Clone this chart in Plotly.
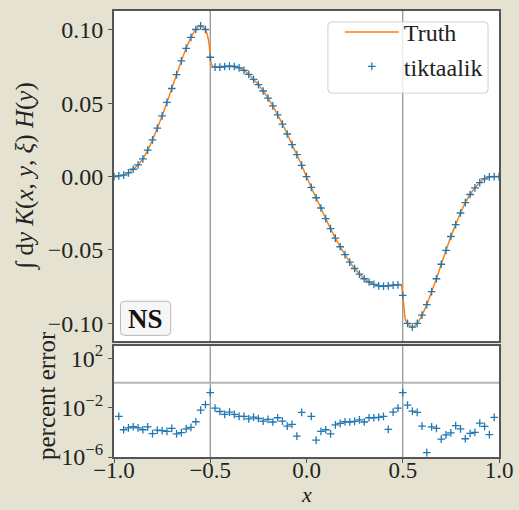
import numpy as np
import plotly.graph_objects as go

# ---- data -------------------------------------------------------------
x_grid = np.linspace(-1.0, 1.0, 81)

tiktaalik_vals = [
    0.0000, 0.0005, 0.0010, 0.0025, 0.0050, 0.0080, 0.0120, 0.0180, 0.0250, 0.0330,
    0.0414, 0.0505, 0.0600, 0.0694, 0.0788, 0.0874, 0.0948, 0.1002, 0.1027, 0.1002,
    0.0813, 0.0745, 0.0745, 0.0750, 0.0752, 0.0750, 0.0741, 0.0723, 0.0696, 0.0662,
    0.0626, 0.0583, 0.0534, 0.0482, 0.0421, 0.0358, 0.0290, 0.0218, 0.0149, 0.0077,
    0.0000,
    -0.0074, -0.0144, -0.0214, -0.0286, -0.0354, -0.0419, -0.0478, -0.0532, -0.0583,
    -0.0626, -0.0664, -0.0696, -0.0718, -0.0734, -0.0745, -0.0747, -0.0745, -0.0739,
    -0.0737, -0.0809, -0.1000, -0.1025, -0.1000, -0.0944, -0.0872, -0.0784, -0.0696,
    -0.0597, -0.0502, -0.0408, -0.0327, -0.0248, -0.0178, -0.0122, -0.0077, -0.0041,
    -0.0016, -0.0002, 0.0000, 0.0000,
]

# extra samples of the exact curve around the kinks at x = -0.5 and x = 0.5
truth_extra_x = [-0.51, -0.505, -0.495, -0.49, 0.49, 0.495, 0.505, 0.51, 0.515]
truth_extra_y = [0.0935, 0.0890, 0.0770, 0.0755, -0.0736, -0.0750, -0.0870, -0.0940, -0.0980]

percent_error = [
    None, 1.9e-3, 1.6e-4, 2.3e-4, 2.8e-4, 2.3e-4, 1.6e-4, 2.7e-4, 7.8e-5, 1.5e-4,
    1.35e-4, 1.2e-4, 2.1e-4, 7.4e-5, 9.3e-5, 1.9e-4, 2.5e-4, 7.1e-4, 6.2e-3, 1.7e-2,
    0.16, 8.9e-3, 4.8e-3, 2.8e-3, 4.3e-3, 2.8e-3, 1.9e-3, 1.9e-3, 1.2e-3, 1.7e-3,
    1.3e-3, 8.1e-4, 1.1e-3, 6.8e-4, 1.5e-3, 8.1e-4, 3.2e-4, 4.4e-4, 4.8e-5, 4.0e-3,
    None,
    1.9e-3, 2.3e-5, 1.2e-4, 1.6e-4, 7.4e-5, 3.9e-4, 5.2e-4, 7.1e-4, 6.8e-4,
    7.6e-4, 1.0e-3, 6.8e-4, 1.5e-3, 1.5e-3, 1.6e-3, 1.9e-3, 1.7e-4, 4.3e-3,
    8.9e-3, 0.16, 1.6e-2, 5.1e-3, 4.0e-3, 3.2e-4, 2.3e-6, 2.7e-4, 2.1e-4,
    2.8e-5, 6.2e-5, 8.9e-5, 3.4e-4, 1.9e-4, 3.0e-5, 8.3e-5, 1.0e-4, 5.6e-4,
    3.0e-4, 6.5e-5, 1.6e-3, None,
]

top_ticks = [0.10, 0.05, 0.00, -0.05, -0.10]
err_ticks = [1e2, 1e-2, 1e-6]
err_ticktext = ["10<sup>2</sup>", "10<sup>\u22122</sup>", "10<sup>\u22126</sup>"]
x_ticks = [-1.0, -0.5, 0.0, 0.5, 1.0]
boundaries = [-0.5, 0.5]

# merge grid samples and extra kink samples for the exact curve
truth_pairs = sorted(list(zip(x_grid.tolist(), tiktaalik_vals)) +
                     list(zip(truth_extra_x, truth_extra_y)))
truth_x = [p[0] for p in truth_pairs]
truth_y = [p[1] for p in truth_pairs]

# ---- geometry ----------------------------------------------------------
W, H = 519, 510
L, R, T, B = 114, 501, 6, 457  # plotting region in pixels
TOP_BOTTOM = 340
LOW_TOP = 345


def px(xp):
    return (xp - L) / (R - L)


def py(yp):
    return (B - yp) / (B - T)


def rounded_rect(x0, y0, x1, y1, r):
    a0, a1 = px(x0), px(x1)
    b0, b1 = py(y1), py(y0)  # paper y grows upward
    rx = r / (R - L)
    ry = r / (B - T)
    return (f"M {a0+rx} {b0} L {a1-rx} {b0} Q {a1} {b0} {a1} {b0+ry} "
            f"L {a1} {b1-ry} Q {a1} {b1} {a1-rx} {b1} "
            f"L {a0+rx} {b1} Q {a0} {b1} {a0} {b1-ry} "
            f"L {a0} {b0+ry} Q {a0} {b0} {a0+rx} {b0} Z")


SERIF = "Liberation Serif"
BLUE = "#1f77b4"
ORANGE = "#ff7f0e"
SPINE = "#555555"
TXT = "#222222"

marker_style = dict(symbol="cross-thin", size=5.5, line=dict(color=BLUE, width=1.3))

fig = go.Figure()

fig.add_trace(go.Scatter(
    x=truth_x, y=truth_y, mode="lines", name="Truth",
    line=dict(color=ORANGE, width=1.5, shape="spline", smoothing=0.5),
    xaxis="x2", yaxis="y2",
))
fig.add_trace(go.Scatter(
    x=x_grid, y=tiktaalik_vals, mode="markers", name="tiktaalik",
    marker=marker_style, xaxis="x2", yaxis="y2",
))
fig.add_trace(go.Scatter(
    x=x_grid, y=percent_error, mode="markers", showlegend=False,
    marker=marker_style, xaxis="x", yaxis="y",
))

# vertical lines at the boundaries, through both panels
for xb in boundaries:
    for ax in ("", "2"):
        fig.add_shape(type="line", xref="x" + ax, yref=f"y{ax} domain",
                      x0=xb, x1=xb, y0=0, y1=1, layer="below",
                      line=dict(color="#8c8c8c", width=1.2))
# 1 percent reference line
fig.add_shape(type="line", xref="x domain", yref="y", x0=0, x1=1, y0=1, y1=1,
              layer="below", line=dict(color="#b5b5b5", width=2))

# legend frame
fig.add_shape(type="path", xref="paper", yref="paper",
              path=rounded_rect(329, 17, 490, 89, 4), layer="above",
              fillcolor="rgba(255,255,255,0.8)", line=dict(color="#d0d0d0", width=1))
# panel tag frame
fig.add_shape(type="path", xref="paper", yref="paper",
              path=rounded_rect(120.5, 299.5, 171, 334, 4), layer="above",
              fillcolor="rgba(245,245,245,0.9)", line=dict(color="#b8b8b8", width=1))

tickfont = dict(family=SERIF, size=24, color=TXT)
axis_common = dict(showgrid=False, zeroline=False, showline=True, mirror=True,
                   linecolor=SPINE, linewidth=2, ticks="outside", ticklen=4,
                   tickcolor=SPINE, tickwidth=1.2, tickfont=tickfont)

fig.update_layout(
    width=W, height=H,
    margin=dict(l=L, r=W - R, t=T, b=H - B),
    paper_bgcolor="#e5e2d1",
    plot_bgcolor="white",
    showlegend=True,
    legend=dict(x=px(341), y=py(5), xanchor="left", yanchor="top",
                bgcolor="rgba(0,0,0,0)", borderwidth=0,
                font=dict(family=SERIF, size=24, color=TXT),
                itemwidth=54, tracegroupgap=0),
    xaxis=dict(domain=[0, 1], anchor="y", range=[-1, 1], tickvals=x_ticks,
               ticktext=["\u22121.0", "\u22120.5", "0.0", "0.5", "1.0"],
               ticklabelstandoff=-13, **axis_common),
    yaxis=dict(domain=[0, py(LOW_TOP)], anchor="x", type="log", range=[-6, 2.96],
               tickvals=err_ticks, ticktext=err_ticktext, **axis_common),
    xaxis2=dict(domain=[0, 1], anchor="y2", range=[-1, 1], matches="x",
                showticklabels=False, showgrid=False, zeroline=False, showline=True,
                mirror=True, linecolor=SPINE, linewidth=2, ticks=""),
    yaxis2=dict(domain=[py(TOP_BOTTOM), 1], anchor="x2", range=[-0.1122, 0.1128],
                tickvals=top_ticks, tickformat=".2f", **axis_common),
    annotations=[
        dict(text="\u222b d<i>y</i> <i>K</i>(<i>x</i>, <i>y</i>, <i>\u03be</i>) <i>H</i>(<i>y</i>)",
             xref="paper", yref="paper", x=px(25), y=py(173), textangle=-90,
             showarrow=False, xanchor="center", yanchor="middle",
             font=dict(family=SERIF, size=25, color=TXT)),
        dict(text="percent error", xref="paper", yref="paper", x=px(46), y=py(395),
             textangle=-90, showarrow=False, xanchor="center", yanchor="middle",
             font=dict(family=SERIF, size=25, color=TXT)),
        dict(text="<i>x</i>", xref="paper", yref="paper", x=px(307.5), y=py(510),
             showarrow=False, xanchor="center", yanchor="bottom",
             font=dict(family=SERIF, size=22, color=TXT)),
        dict(text="<b>NS</b>", xref="paper", yref="paper", x=px(145.7), y=py(317),
             showarrow=False, xanchor="center", yanchor="middle",
             font=dict(family=SERIF, size=27, color="#111111")),
    ],
)
fig.update_xaxes(tickfont=dict(family=SERIF, size=23, color=TXT), selector=dict(anchor="y"))

fig.write_html("out.html")
